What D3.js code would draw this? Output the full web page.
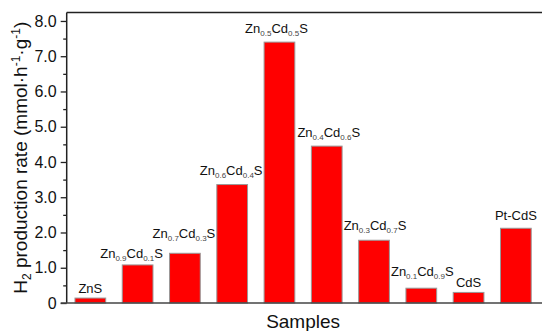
<!DOCTYPE html>
<html>
<head>
<meta charset="utf-8">
<script src="https://cdn.jsdelivr.net/npm/d3@7"></script>
<style>
  html, body { margin: 0; padding: 0; background: #fff; }
  svg { display: block; }
  text { font-family: "Liberation Sans", Arial, sans-serif; }
</style>
</head>
<body>
<svg id="chart" width="542" height="331"></svg>
<script>
// ---- data ----
const categories = ["ZnS", "Zn0.9Cd0.1S", "Zn0.7Cd0.3S", "Zn0.6Cd0.4S", "Zn0.5Cd0.5S",
                    "Zn0.4Cd0.6S", "Zn0.3Cd0.7S", "Zn0.1Cd0.9S", "CdS", "Pt-CdS"];
const rates = [0.14, 1.08, 1.41, 3.36, 7.40, 4.45, 1.78, 0.42, 0.30, 2.12];
const yTicks = [0, 1, 2, 3, 4, 5, 6, 7, 8];
const yTickLabels = ["0", "1.0", "2.0", "3.0", "4.0", "5.0", "6.0", "7.0", "8.0"];
const yMinorTicks = [0.5, 1.5, 2.5, 3.5, 4.5, 5.5, 6.5, 7.5];

// ---- layout (label placement above bars, px) ----
const labelGap = [5, 7, 15, 10, 9, 9, 10, 12, 5, 8];
const labelDx = [0, -6, -1, -1, -3, 2, 1, 1, 0, 0];

const svg = d3.select("#chart");
const mLeft = 66.7, mRight = 539.5, mTop = 12.5, mBottom = 303;

const x = d3.scaleBand().domain(categories).range([mLeft, mRight])
  .paddingInner(0.35).paddingOuter(0.175);
const y = d3.scaleLinear().domain([0, 8.24]).range([mBottom, mTop]);

// bars
svg.append("g").selectAll("rect").data(categories).join("rect")
  .attr("x", d => x(d))
  .attr("y", (d, i) => y(rates[i]))
  .attr("width", x.bandwidth())
  .attr("height", (d, i) => y(0) - y(rates[i]))
  .attr("fill", "#ff0000")
  .attr("stroke", "#999")
  .attr("stroke-width", 1);

// bar labels with subscripts
const lab = svg.append("g").selectAll("text").data(categories).join("text")
  .attr("x", (d, i) => x(d) + x.bandwidth() / 2 + labelDx[i])
  .attr("y", (d, i) => y(rates[i]) - labelGap[i])
  .attr("text-anchor", "middle")
  .attr("font-size", 13)
  .attr("fill", "#111");
lab.each(function(d) {
  const t = d3.select(this);
  const parts = d.split(/(\d\.\d)/).filter(s => s.length);
  let sub = false;
  parts.forEach(p => {
    if (/^\d\.\d$/.test(p)) {
      t.append("tspan").attr("dy", 3).attr("font-size", 8).attr("fill", "#444").text(p);
      sub = true;
    } else {
      const ts = t.append("tspan").text(p);
      if (sub) { ts.attr("dy", -3); sub = false; }
    }
  });
});

// y axis
const yAxis = d3.axisLeft(y).tickValues(yTicks)
  .tickFormat((d, i) => yTickLabels[i]).tickSize(6).tickPadding(4);
const gy = svg.append("g").attr("transform", `translate(${mLeft},0)`).call(yAxis);
gy.select(".domain").remove();
gy.selectAll("line").attr("stroke", "#222").attr("stroke-width", 1.3);
gy.selectAll("text").attr("font-size", 16).attr("fill", "#111")
  .style("font-family", '"Liberation Sans", Arial, sans-serif');
const gym = svg.append("g").attr("transform", `translate(${mLeft},0)`)
  .call(d3.axisLeft(y).tickValues(yMinorTicks).tickSize(3.5).tickFormat(""));
gym.select(".domain").remove();
gym.selectAll("line").attr("stroke", "#222").attr("stroke-width", 1.3);

// frame lines
svg.append("line").attr("x1", mLeft).attr("x2", mLeft).attr("y1", mTop).attr("y2", mBottom)
  .attr("stroke", "#222").attr("stroke-width", 1.5);
svg.append("line").attr("x1", mLeft).attr("x2", 545).attr("y1", mTop).attr("y2", mTop)
  .attr("stroke", "#222").attr("stroke-width", 1.5);
svg.append("line").attr("x1", mLeft - 6).attr("x2", 545).attr("y1", mBottom).attr("y2", mBottom)
  .attr("stroke", "#444").attr("stroke-width", 1.5);

// x title
svg.append("text").attr("x", (mLeft + mRight) / 2).attr("y", 328)
  .attr("text-anchor", "middle").attr("font-size", 19).attr("fill", "#111").text("Samples");

// y title
const yt = svg.append("text")
  .attr("transform", `translate(27,${(mTop + mBottom) / 2}) rotate(-90)`)
  .attr("text-anchor", "middle").attr("font-size", 19).attr("fill", "#111");
yt.append("tspan").text("H");
yt.append("tspan").attr("dy", 4).attr("font-size", 12).text("2");
yt.append("tspan").attr("dy", -4).text(" production rate (mmol·h");
yt.append("tspan").attr("dy", -7).attr("font-size", 12).text("-1");
yt.append("tspan").attr("dy", 7).text("·g");
yt.append("tspan").attr("dy", -7).attr("font-size", 12).text("-1");
yt.append("tspan").attr("dy", 7).text(")");
</script>
</body>
</html>
